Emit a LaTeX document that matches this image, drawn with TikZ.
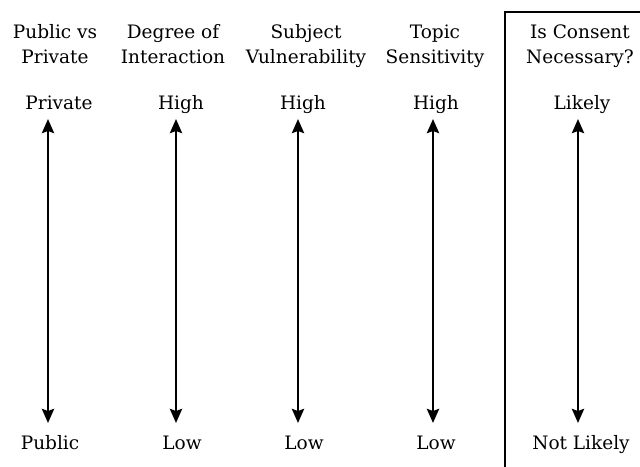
\documentclass[tikz,border=0pt]{standalone}
\usepackage{fontspec}
\setmainfont{DejaVu Serif}
\usetikzlibrary{arrows.meta}
\begin{document}
\begin{tikzpicture}[x=1pt,y=-1pt,
  lbl/.style={anchor=base,inner sep=0pt,text=black,font=\fontsize{18.5}{25}\selectfont},
  hdr/.style={anchor=base,inner sep=0pt,align=center,text=black,font=\fontsize{18.5}{25}\selectfont},
  scale arrow/.style={line width=2.8pt,{Stealth[width=12pt,length=14pt,inset=2pt]}-{Stealth[width=12pt,length=14pt,inset=2pt]}},
  frame/.style={line width=2.8pt}]
\useasboundingbox (0,0) rectangle (640,466);
% headers (base = baseline of last line)
\node[hdr] (h1) at (55,63) {Public vs\\Private};
\node[hdr] (h2) at (173,63) {Degree of\\Interaction};
\node[hdr] (h3) at (306,63) {Subject\\Vulnerability};
\node[hdr] (h4) at (435,63) {Topic\\Sensitivity};
\node[hdr] (h5) at (580,63) {Is Consent\\Necessary?};
% top labels
\node[lbl] (t1) at (59,109) {Private};
\node[lbl] (t2) at (181,109) {High};
\node[lbl] (t3) at (303,109) {High};
\node[lbl] (t4) at (436,109) {High};
\node[lbl] (t5) at (582,109) {Likely};
% bottom labels
\node[lbl] (b1) at (50,449) {Public};
\node[lbl] (b2) at (182,449) {Low};
\node[lbl] (b3) at (304,449) {Low};
\node[lbl] (b4) at (436,449) {Low};
\node[lbl] (b5) at (581,449) {Not Likely};
% arrow ends
\coordinate (a1t) at (48,119); \coordinate (a1b) at (48,423);
\coordinate (a2t) at (176,119); \coordinate (a2b) at (176,423);
\coordinate (a3t) at (298,119); \coordinate (a3b) at (298,423);
\coordinate (a4t) at (433,119); \coordinate (a4b) at (433,423);
\coordinate (a5t) at (578,119); \coordinate (a5b) at (578,423);
\draw[scale arrow] (a1t) -- (a1b);
\draw[scale arrow] (a2t) -- (a2b);
\draw[scale arrow] (a3t) -- (a3b);
\draw[scale arrow] (a4t) -- (a4b);
\draw[scale arrow] (a5t) -- (a5b);
% frame
\coordinate (fr) at (645,12);
\coordinate (fc) at (505,12);
\coordinate (fb) at (505,472);
\draw[frame] (fr) -- (fc) -- (fb);
\end{tikzpicture}
\end{document}
